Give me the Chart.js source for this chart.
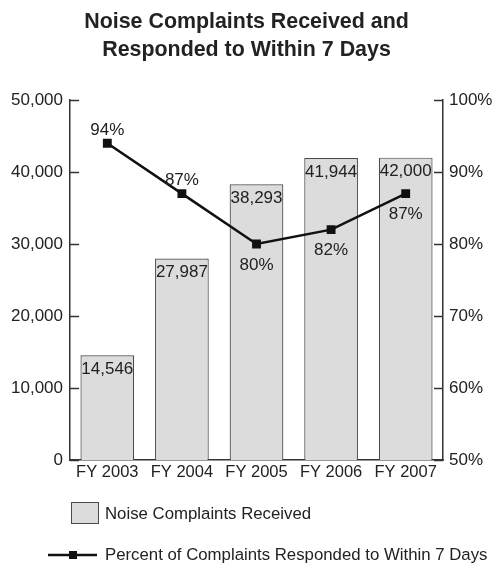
<!DOCTYPE html>
<html>
<head>
<meta charset="utf-8">
<script src="https://cdn.jsdelivr.net/npm/chart.js@4.4.0/dist/chart.umd.min.js"></script>
<style>
    html, body { margin: 0; padding: 0; background: #fff; }
    #wrap { width: 493px; height: 565px; }
</style>
</head>
<body>
<div id="wrap"><canvas id="myChart"></canvas></div>
<script>
const years = ['FY 2003', 'FY 2004', 'FY 2005', 'FY 2006', 'FY 2007'];
const complaints = [14546, 27987, 38293, 41944, 42000];
const pctResponded = [94, 87, 80, 82, 87];
const countTicks = [0, 10000, 20000, 30000, 40000, 50000];
const pctTicks = [50, 60, 70, 80, 90, 100];

const FONT = '"Liberation Sans", Arial, Helvetica, sans-serif';
const INK = '#222';
const AXIS = '#333';
const BAR_FILL = '#dcdcdc';
const BAR_EDGE = '#4a4a4a';

// where each percent label sits relative to its point
const pctLabelSide = ['above', 'above', 'below', 'below', 'below'];

const decorPlugin = {
    id: 'decor',
    afterDatasetsDraw(chart) {
        const ctx = chart.ctx;
        const area = chart.chartArea;
        ctx.save();

        // inward tick marks
        ctx.strokeStyle = AXIS;
        ctx.lineWidth = 1.5;
        const yL = chart.scales.y;
        const yR = chart.scales.y2;
        countTicks.forEach((v) => {
            let py = Math.round(yL.getPixelForValue(v)) + 0.5;
            ctx.beginPath();
            ctx.moveTo(area.left, py);
            ctx.lineTo(area.left + 9, py);
            ctx.stroke();
        });
        pctTicks.forEach((v) => {
            let py = Math.round(yR.getPixelForValue(v)) + 0.5;
            ctx.beginPath();
            ctx.moveTo(area.right - 9, py);
            ctx.lineTo(area.right, py);
            ctx.stroke();
        });

        // bar value labels
        ctx.font = '17px ' + FONT;
        ctx.fillStyle = INK;
        ctx.textAlign = 'center';
        ctx.textBaseline = 'middle';
        chart.getDatasetMeta(0).data.forEach((bar, i) => {
            ctx.fillText(complaints[i].toLocaleString('en-US'), bar.x, bar.y + 14);
        });

        // percent labels
        chart.getDatasetMeta(1).data.forEach((pt, i) => {
            let dy = pctLabelSide[i] === 'above' ? -13 : 21;
            ctx.fillText(pctResponded[i] + '%', pt.x, pt.y + dy);
        });

        // legend
        ctx.font = '16.8px ' + FONT;
        ctx.textAlign = 'left';
        ctx.fillStyle = BAR_FILL;
        ctx.fillRect(71, 502, 28, 22);
        ctx.strokeStyle = BAR_EDGE;
        ctx.lineWidth = 1;
        ctx.strokeRect(71.5, 502.5, 27, 21);
        ctx.fillStyle = INK;
        ctx.fillText('Noise Complaints Received', 105, 514);

        ctx.strokeStyle = '#111';
        ctx.lineWidth = 2.5;
        ctx.beginPath();
        ctx.moveTo(48, 555);
        ctx.lineTo(97, 555);
        ctx.stroke();
        ctx.fillStyle = '#111';
        ctx.fillRect(69, 551, 8, 8);
        ctx.fillStyle = INK;
        ctx.fillText('Percent of Complaints Responded to Within 7 Days', 105, 555);

        ctx.restore();
    }
};

new Chart(document.getElementById('myChart'), {
    data: {
        labels: years,
        datasets: [
            {
                type: 'bar',
                label: 'Noise Complaints Received',
                data: complaints,
                yAxisID: 'y',
                backgroundColor: BAR_FILL,
                borderColor: BAR_EDGE,
                borderWidth: 1.2,
                barPercentage: 0.72,
                categoryPercentage: 1,
                order: 2,
            },
            {
                type: 'line',
                label: 'Percent of Complaints Responded to Within 7 Days',
                data: pctResponded,
                yAxisID: 'y2',
                borderColor: '#111',
                borderWidth: 2.5,
                pointStyle: 'rect',
                pointRadius: 4.5,
                pointBackgroundColor: '#111',
                pointBorderColor: '#111',
                tension: 0,
                order: 1,
            }
        ]
    },
    options: {
        responsive: true,
        maintainAspectRatio: false,
        animation: false,
        layout: { padding: 0 },
        plugins: {
            legend: { display: false },
            tooltip: { enabled: false },
            title: {
                display: true,
                text: ['Noise Complaints Received and', 'Responded to Within 7 Days'],
                color: INK,
                font: { family: FONT, size: 21.4, weight: 'bold', lineHeight: 1.3 },
                padding: { top: 8, bottom: 36.4 },
            }
        },
        scales: {
            x: {
                grid: { display: false, drawTicks: false },
                border: { display: true, color: AXIS, width: 1.5 },
                ticks: { color: INK, font: { family: FONT, size: 16.5 }, padding: 3, maxRotation: 0 },
                afterFit: (scale) => { scale.height = 105; }
            },
            y: {
                position: 'left',
                min: 0,
                max: 50000,
                grid: { display: false, drawTicks: false },
                border: { display: true, color: AXIS, width: 1.5 },
                ticks: {
                    stepSize: 10000,
                    color: INK,
                    padding: 7,
                    font: { family: FONT, size: 17 },
                    callback: (v) => v.toLocaleString('en-US'),
                },
                afterFit: (scale) => { scale.width = 70; }
            },
            y2: {
                position: 'right',
                min: 50,
                max: 100,
                grid: { display: false, drawTicks: false },
                border: { display: true, color: AXIS, width: 1.5 },
                ticks: {
                    stepSize: 10,
                    color: INK,
                    padding: 6,
                    font: { family: FONT, size: 17 },
                    callback: (v) => v + '%',
                },
                afterFit: (scale) => { scale.width = 50; }
            }
        }
    },
    plugins: [decorPlugin]
});
</script>
</body>
</html>
